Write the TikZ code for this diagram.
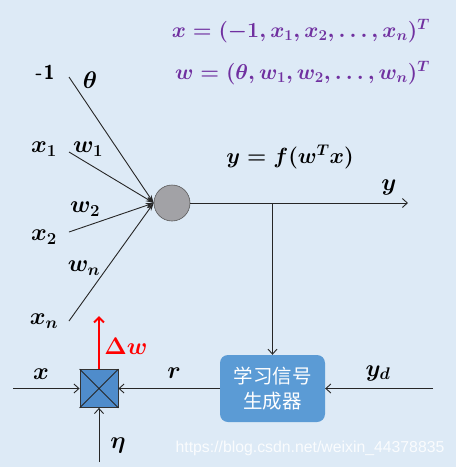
\RequirePackage{fix-cm}
\documentclass[tikz,border=0pt]{standalone}
\usepackage{amsmath}
\usepackage{fontspec}
\newfontfamily\cjk{Noto Sans CJK SC}
\newfontfamily\wmfont{Liberation Sans}
\usetikzlibrary{arrows.meta}
\definecolor{bg}{HTML}{DDEAF6}
\definecolor{boxblue}{HTML}{5B9BD5}
\definecolor{mulblue}{HTML}{4F8CCB}
\definecolor{purp}{HTML}{7030A0}
\definecolor{neugray}{HTML}{A2A2A6}
\begin{document}
\begin{tikzpicture}[x=1pt,y=-1pt,
  lbl/.style={font=\fontsize{24}{28}\selectfont\boldmath, inner sep=0pt},
  flbl/.style={font=\fontsize{21.5}{26}\selectfont\boldmath, inner sep=0pt, text=purp, anchor=east},
  wire/.style={line width=0.9pt, draw=black!85},
  barb/.style={wire, -{Straight Barb[length=5pt,width=9pt]}},
  inarrow/.style={wire, -{Stealth[length=8pt,width=5pt]}}]
\useasboundingbox[fill=bg] (0,0) rectangle (456,467);
% formulas
\node[flbl] (fx) at (430,31) {$x=(-1,x_1,x_2,\dots,x_n)^T$};
\node[flbl] (fw) at (430,73) {$w=(\theta,w_1,w_2,\dots,w_n)^T$};
% neuron
\node[circle, fill=neugray, draw=gray!70!black, line width=0.6pt, minimum size=36pt, inner sep=0pt] (neu) at (172,203) {};
% input start points
\coordinate (s0) at (69,77);
\coordinate (s1) at (69,152);
\coordinate (s2) at (69,232);
\coordinate (sn) at (69,321);
\draw[inarrow] (s0) -- (neu.west);
\draw[inarrow] (s1) -- (neu.west);
\draw[inarrow] (s2) -- (neu.west);
\draw[inarrow] (sn) -- (neu.west);
% input labels
\node[font=\sffamily\bfseries\fontsize{20}{22}\selectfont, inner sep=0pt] (m1) at (45,72) {-\kern1pt1};
\node[lbl] (th) at (90,80) {$\theta$};
\node[lbl] (x1) at (44,149) {$x_1$};
\node[lbl] (w1) at (88,149) {$w_1$};
\node[lbl] (w2) at (85,209) {$w_2$};
\node[lbl] (x2) at (44,237) {$x_2$};
\node[lbl] (wn) at (84,268) {$w_n$};
\node[lbl] (xn) at (44,321) {$x_n$};
% output
\node[lbl, font=\fontsize{22}{26}\selectfont\boldmath] (fy) at (290,157) {$y=f(w^Tx)$};
\coordinate (yend) at (408,203);
\draw[barb] (neu.east) -- (yend);
\node[lbl] (ylab) at (389,187) {$y$};
% learning signal generator
\node[rounded corners=8pt, fill=boxblue, minimum width=105pt, minimum height=67pt, text=white, align=center, font=\cjk\fontsize{19.5}{25}\selectfont, inner sep=0pt] (gen) at (272.5,388.5) {学习信号\\生成器};
\coordinate (br) at (272.5,203);
\draw[barb] (br) -- (gen.north);
\coordinate (ydin) at (433,388.5);
\draw[barb] (ydin) -- (gen.east);
\node[lbl] (yd) at (378,373) {$y_d$};
% multiplier
\node[draw=black!80, fill=mulblue, line width=0.8pt, minimum size=38pt, inner sep=0pt] (mul) at (99,388.5) {};
\draw[wire] (mul.north west) -- (mul.south east) (mul.north east) -- (mul.south west);
\draw[barb] (gen.west) -- (mul.east);
\node[lbl] (rl) at (174,373) {$r$};
\coordinate (xin) at (13,388.5);
\draw[barb] (xin) -- (mul.west);
\node[lbl] (xl) at (41,374) {$x$};
\coordinate (etain) at (99,462);
\draw[barb] (etain) -- (mul.south);
\node[lbl] (eta) at (118,445) {$\eta$};
\coordinate (dwend) at (99,316);
\draw[red, line width=2pt, -{Straight Barb[length=5pt,width=10pt]}] (mul.north) -- (dwend);
\node[lbl, text=red] (dw) at (126,346) {$\boldsymbol{\Delta} w$};
% watermark
\node[font=\wmfont\fontsize{15.8}{18}\selectfont, text=white, opacity=0.85, inner sep=0pt] (wm) at (310,448) {https://blog.csdn.net/weixin\_44378835};
\end{tikzpicture}
\end{document}
